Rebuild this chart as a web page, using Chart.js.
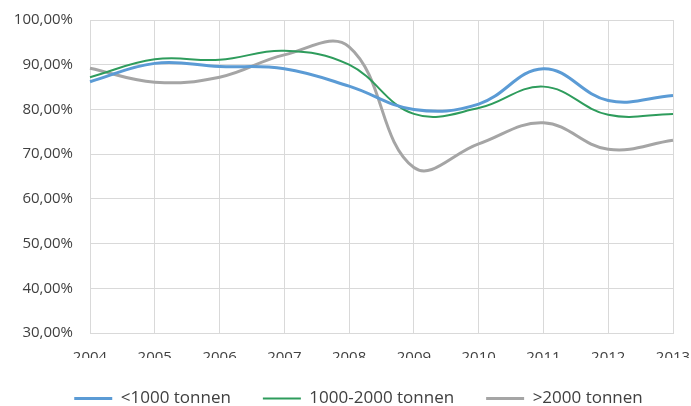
<!DOCTYPE html>
<html>
<head>
<meta charset="utf-8">
<script src="https://cdn.jsdelivr.net/npm/chart.js@4/dist/chart.umd.min.js"></script>
<style>
  html, body { margin: 0; padding: 0; background: #fff; }
  #wrap { width: 691px; height: 406px; }
</style>
</head>
<body>
<div id="wrap"><canvas id="chart"></canvas></div>
<script>
const years = ['2004', '2005', '2006', '2007', '2008', '2009', '2010', '2011', '2012', '2013'];
const small = [86.2, 90.3, 89.6, 89.1, 85.2, 80.0, 81.2, 89.1, 82.0, 83.1];
const medium = [87.2, 91.2, 91.1, 93.1, 90.0, 79.0, 80.3, 85.1, 78.8, 79.0];
const large = [89.2, 86.1, 87.2, 92.2, 94.0, 67.0, 72.3, 77.0, 71.1, 73.1];

const ctx = document.getElementById('chart').getContext('2d');

// nudge the legend a bit to the right, like the original
const legendShift = {
  id: 'legendShift',
  afterLayout(chart) {
    chart.legend.left += 22;
    chart.legend.right += 22;
  }
};

new Chart(ctx, {
  type: 'line',
  data: {
    labels: years,
    datasets: [
      { label: '<1000 tonnen', data: small, borderColor: '#5B9BD5', borderWidth: 3 },
      { label: '1000-2000 tonnen', data: medium, borderColor: '#2E9C5C', borderWidth: 2 },
      { label: '>2000 tonnen', data: large, borderColor: '#A5A5A5', borderWidth: 3 }
    ]
  },
  options: {
    responsive: true,
    maintainAspectRatio: false,
    animation: false,
    devicePixelRatio: 1,
    elements: {
      line: { tension: 0.4, fill: false },
      point: { radius: 0 }
    },
    layout: { padding: { left: 0, right: 18, top: 20, bottom: 0 } },
    scales: {
      x: {
        offset: false,
        grid: { color: '#D9D9D9', drawTicks: false },
        border: { color: '#D9D9D9' },
        ticks: { color: '#404040', font: { size: 15, family: 'Open Sans', lineHeight: 1.2 }, padding: 16, maxRotation: 0 },
        afterFit: scale => {
          scale.height = 25;
          scale.paddingLeft = 0;
          scale.paddingRight = 0;
        }
      },
      y: {
        min: 30,
        max: 100,
        grid: { color: '#D9D9D9', drawTicks: false },
        border: { color: '#D9D9D9' },
        ticks: {
          stepSize: 10,
          color: '#404040',
          padding: 17,
          font: { size: 15, family: 'Open Sans' },
          callback: v => v.toFixed(2).replace('.', ',') + '%'
        },
        afterFit: scale => {
          scale.width = 90;
          scale.paddingTop = 0;
          scale.paddingBottom = 0;
        }
      }
    },
    plugins: {
      tooltip: { enabled: false },
      legend: {
        position: 'bottom',
        maxHeight: 48,
        labels: {
          usePointStyle: true,
          pointStyle: 'line',
          pointStyleWidth: 38,
          color: '#404040',
          padding: 32,
          font: { size: 17, family: 'Open Sans' }
        }
      }
    }
  },
  plugins: [legendShift]
});
</script>
</body>
</html>
